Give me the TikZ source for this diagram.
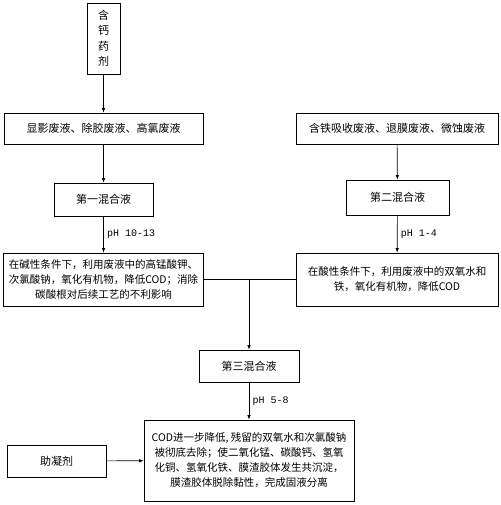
\documentclass[tikz,border=0pt]{standalone}
\usepackage{fontspec}
\setmainfont{Noto Sans CJK SC}
\newfontfamily\phfont{Liberation Mono}
\usetikzlibrary{arrows.meta}
\begin{document}
\begin{tikzpicture}[
            x=1pt, y=-1pt,
            box/.style={draw, line width=0.7pt, align=center, inner sep=1pt,
                    font=\fontsize{10.5}{15}\selectfont},
            label/.style={font=\fontsize{11}{15.5}\selectfont},
            flow/.style={-{Latex[length=4.5pt,width=3.5pt]}, line width=0.7pt},
            ph/.style={right, font=\phfont\fontsize{10}{12}\selectfont}
        ]
        \useasboundingbox (0,0) rectangle (500,505);

        % 左侧原料
        \node[box, label, minimum width=33pt, minimum height=71pt] (calc) at (103.5, 38.5) {含\\钙\\药\\剂};
        \node[box, label, minimum width=199pt, minimum height=31pt] (waste1) at (103.5, 128.5) {显影废液、除胶废液、高氯废液};
        \node[box, label, minimum width=99pt, minimum height=33pt] (mix1) at (103.5, 199.5) {第一混合液};
        \node[box, minimum width=200pt, minimum height=53pt] (react1) at (103.5, 279.5)
            {在碱性条件下，利用废液中的高锰酸钾、\\次氯酸钠，氧化有机物，降低COD；消除\\碳酸根对后续工艺的不利影响};

        % 右侧原料
        \node[box, label, minimum width=202pt, minimum height=31pt] (waste2) at (397, 128.5) {含铁吸收废液、退膜废液、微蚀废液};
        \node[box, label, minimum width=103pt, minimum height=35pt] (mix2) at (397.5, 197.5) {第二混合液};
        \node[box, minimum width=202pt, minimum height=53pt] (react2) at (397, 279.5)
            {在酸性条件下，利用废液中的双氧水和\\铁，氧化有机物，降低COD};

        % 合并
        \node[box, label, minimum width=100pt, minimum height=32pt] (mix3) at (249, 366) {第三混合液};
        \node[box, minimum width=210pt, minimum height=81pt] (final) at (249, 460.5)
            {COD进一步降低, 残留的双氧水和次氯酸钠\\被彻底去除；使二氧化锰、碳酸钙、氢氧\\化铜、氢氧化铁、膜渣胶体发生共沉淀，\\膜渣胶体脱除黏性，完成固液分离};
        \node[box, label, minimum width=99pt, minimum height=32pt] (aid) at (56.5, 461) {助凝剂};
        \coordinate (join) at (mix3.north |- react1.east);

        % 箭头
        \draw[flow] (calc) -- (waste1);
        \draw[flow] (waste1) -- (mix1);
        \draw[flow] (mix1) -- node[ph] {pH 10-13} (react1);
        \draw[flow] (waste2) -- (mix2);
        \draw[flow] (mix2) -- node[ph] {pH 1-4} (react2);
        \draw[line width=0.7pt] (react1.east) -- (join) -- (react2.west);
        \draw[flow] (join) -- (mix3);
        \draw[flow] (mix3) -- node[ph] {pH 5-8} (final);
        \draw[flow] (aid) -- (final);
    \end{tikzpicture}
\end{document}
